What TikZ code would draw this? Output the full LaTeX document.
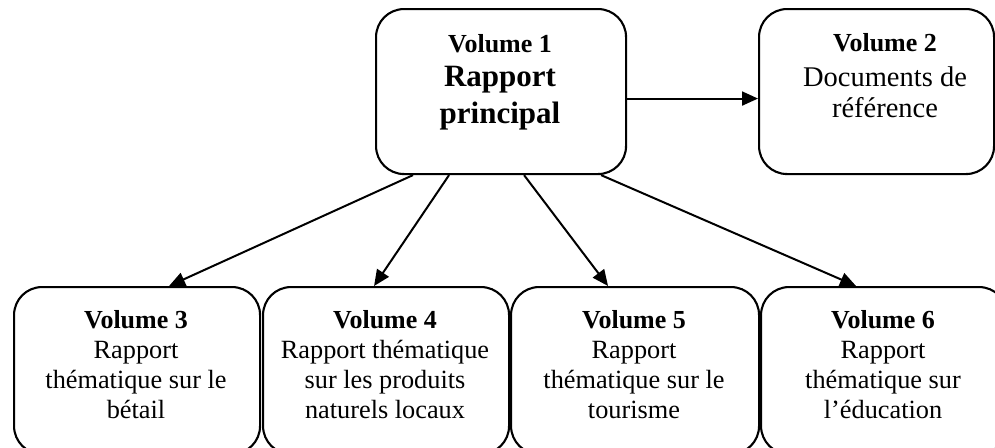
\documentclass[tikz,border=0pt]{standalone}
\usepackage{fontspec}
\setmainfont{Liberation Serif}
\usetikzlibrary{arrows.meta}
\begin{document}
\begin{tikzpicture}[x=1pt,y=-1pt,
  box/.style={draw,line width=2.1pt,rounded corners=28pt,inner sep=0pt,anchor=north west},
  conn/.style={line width=2pt,-{Triangle[length=16pt,width=14pt]}},
  reg/.style={anchor=base,inner sep=0pt,font=\fontsize{26.3}{30}\selectfont},
  regb/.style={anchor=base,inner sep=0pt,font=\fontsize{26}{30}\selectfont\bfseries},
  big/.style={anchor=base,inner sep=0pt,font=\fontsize{31}{37}\selectfont\bfseries},
  mid/.style={anchor=base,inner sep=0pt,font=\fontsize{28.5}{33}\selectfont}]
\useasboundingbox (0,0) rectangle (995,447);
\clip (0,0) rectangle (995,447);
% top boxes
\node[box,minimum width=250pt,minimum height=165pt] (v1) at (375,8) {};
\node[box,minimum width=235pt,minimum height=165pt] (v2) at (758,8) {};
% bottom boxes
\node[box,minimum width=246pt,minimum height=167pt] (v3) at (13,286) {};
\node[box,minimum width=246pt,minimum height=167pt] (v4) at (262,286) {};
\node[box,minimum width=248pt,minimum height=167pt] (v5) at (510,286) {};
\node[box,minimum width=246pt,minimum height=167pt] (v6) at (760,286) {};
% texts
\node[regb] (t1a) at (500,52) {Volume 1};
\node[big]  (t1b) at (500,86) {Rapport};
\node[big]  (t1c) at (500,123) {principal};
\node[regb] (t2a) at (885,51) {Volume 2};
\node[mid]  (t2b) at (885,86) {Documents de};
\node[mid]  (t2c) at (885,117) {référence};
\node[regb] (t3a) at (136,328) {Volume 3};
\node[reg]  (t3b) at (136,358) {Rapport};
\node[reg]  (t3c) at (136,388) {thématique sur le};
\node[reg]  (t3d) at (136,418) {bétail};
\node[regb] (t4a) at (385,328) {Volume 4};
\node[reg]  (t4b) at (385,358) {Rapport thématique};
\node[reg]  (t4c) at (385,388) {sur les produits};
\node[reg]  (t4d) at (385,418) {naturels locaux};
\node[regb] (t5a) at (634,328) {Volume 5};
\node[reg]  (t5b) at (634,358) {Rapport};
\node[reg]  (t5c) at (634,388) {thématique sur le};
\node[reg]  (t5d) at (634,418) {tourisme};
\node[regb] (t6a) at (883,328) {Volume 6};
\node[reg]  (t6b) at (883,358) {Rapport};
\node[reg]  (t6c) at (883,388) {thématique sur};
\node[reg]  (t6d) at (883,418) {l’éducation};
% connectors
\draw[conn] ([yshift=-7pt]v1.east) -- ([yshift=-7pt]v2.west);
\draw[conn] ([xshift=-88pt]v1.south) -- ([xshift=32pt]v3.north);
\draw[conn] ([xshift=-52pt]v1.south) -- ([xshift=-12pt]v4.north);
\draw[conn] ([xshift=23pt]v1.south) -- ([xshift=-27pt]v5.north);
\draw[conn] ([xshift=100pt]v1.south) -- ([xshift=-28pt]v6.north);
\end{tikzpicture}
\end{document}
